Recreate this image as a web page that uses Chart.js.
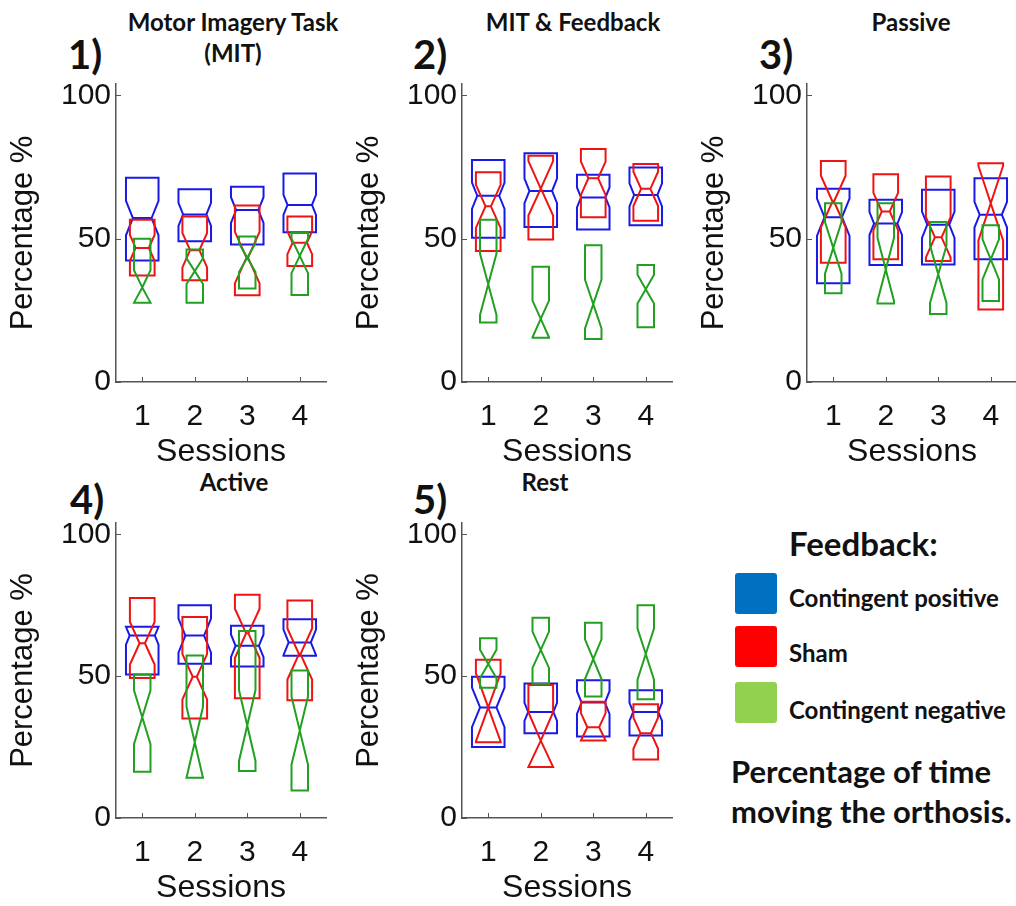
<!DOCTYPE html>
<html>
<head>
<meta charset="utf-8">
<script src="https://cdn.jsdelivr.net/npm/chart.js@4.4.1/dist/chart.umd.min.js"></script>
<style>
html, body { margin: 0; padding: 0; background: #fff; overflow: hidden; width: 1016px; height: 906px; }
.panel { position: absolute; }
.t { position: absolute; font-family: Lato, "Open Sans", sans-serif; font-weight: 700; color: #111; white-space: nowrap; line-height: 1; }
.c { transform: translateX(-50%); }
.sq { position: absolute; width: 42px; height: 41px; border-radius: 3px; }
</style>
</head>
<body>

<div class="t c" style="left:233px;top:10px;font-size:24px">Motor Imagery Task</div>
<div class="t c" style="left:233px;top:41px;font-size:24px">(MIT)</div>
<div class="t" style="left:68px;top:34px;font-size:40px">1)</div>
<div class="t c" style="left:573px;top:10px;font-size:24px">MIT &amp; Feedback</div>
<div class="t" style="left:413px;top:34px;font-size:40px">2)</div>
<div class="t c" style="left:911px;top:10px;font-size:24px">Passive</div>
<div class="t" style="left:759px;top:34px;font-size:40px">3)</div>
<div class="t c" style="left:234px;top:470px;font-size:24px">Active</div>
<div class="t" style="left:70px;top:479px;font-size:40px">4)</div>
<div class="t c" style="left:545px;top:470px;font-size:24px">Rest</div>
<div class="t" style="left:413px;top:479px;font-size:40px">5)</div>

<div class="t" style="left:789px;top:527px;font-size:33px">Feedback:</div>
<div class="sq" style="left:735px;top:573px;background:#0070c0"></div>
<div class="t" style="left:789px;top:586px;font-size:24px">Contingent positive</div>
<div class="sq" style="left:735px;top:626px;background:#ff0000"></div>
<div class="t" style="left:789px;top:641px;font-size:24px">Sham</div>
<div class="sq" style="left:735px;top:682px;background:#92d050"></div>
<div class="t" style="left:789px;top:698px;font-size:24px">Contingent negative</div>
<div class="t" style="left:731px;top:756px;font-size:31px">Percentage of time</div>
<div class="t" style="left:731px;top:796px;font-size:31px">moving the orthosis.</div>

<div class="panel" id="p1"><canvas id="c1"></canvas></div>
<div class="panel" id="p2"><canvas id="c2"></canvas></div>
<div class="panel" id="p3"><canvas id="c3"></canvas></div>
<div class="panel" id="p4"><canvas id="c4"></canvas></div>
<div class="panel" id="p5"><canvas id="c5"></canvas></div>

<script>
// sessions on the x axis
const SESSIONS = [1, 2, 3, 4];
const Y_TICKS = [0, 50, 100];

// each row: [q1, median, q3, notch half-length] per session

// 1) Motor Imagery Task (MIT)
const mitPositive = [[42.4, 57.2, 71.3, 6.0], [49.1, 58.5, 67.3, 4.0], [48.0, 60.0, 68.1, 4.5], [52.3, 61.8, 72.8, 3.5]];
const mitSham     = [[37.2, 46.8, 56.6, 4.5], [35.5, 46.0, 57.8, 6.0], [30.3, 43.4, 61.6, 9.0], [40.5, 48.6, 57.8, 4.0]];
const mitNegative = [[27.7, 33.0, 50.0, 6.0], [27.7, 38.7, 46.2, 4.5], [32.6, 43.4, 50.8, 5.0], [30.4, 44.0, 52.0, 6.0]];

// 2) MIT & Feedback
const fbPositive = [[50.3, 65.0, 77.5, 4.6], [54.1, 66.7, 79.8, 4.3], [53.2, 64.4, 72.3, 3.5], [54.7, 65.3, 74.9, 4.0]];
const fbSham     = [[45.7, 61.3, 73.2, 7.5], [49.7, 67.6, 79.0, 9.5], [57.5, 71.1, 81.3, 5.8], [56.3, 67.4, 76.1, 6.0]];
const fbNegative = [[20.8, 34.1, 56.6, 10.7], [15.4, 22.0, 40.2, 6.4], [15.0, 27.2, 47.7, 8.5], [19.1, 32.4, 40.8, 5.0]];

// 3) Passive
const pasPositive = [[34.5, 57.5, 67.4, 6.5], [40.8, 55.3, 63.6, 4.0], [41.0, 54.9, 67.1, 4.6], [42.8, 58.4, 71.1, 4.5]];
const pasSham     = [[41.6, 63.0, 77.1, 9.0], [42.8, 59.5, 72.5, 6.5], [42.2, 50.5, 71.7, 7.0], [25.3, 62.4, 76.3, 13.0]];
const pasNegative = [[31.0, 46.8, 62.4, 9.0], [27.4, 39.3, 62.4, 11.0], [23.7, 37.6, 55.8, 10.0], [28.3, 42.8, 54.7, 7.0]];

// 4) Active
const actPositive = [[50.6, 64.3, 67.4, 3.2], [54.4, 64.3, 75.0, 6.0], [53.4, 60.7, 67.8, 4.0], [57.2, 61.9, 70.1, 4.5]];
const actSham     = [[49.4, 61.6, 77.6, 7.5], [35.1, 49.8, 70.9, 8.0], [42.2, 65.1, 78.7, 8.7], [41.5, 57.8, 76.7, 9.0]];
const actNegative = [[16.3, 35.5, 50.6, 9.5], [14.2, 26.7, 57.3, 12.5], [16.6, 32.6, 65.9, 12.5], [9.7, 30.8, 52.0, 12.0]];

// 5) Rest
const restPositive = [[25.0, 39.0, 49.8, 7.0], [29.9, 37.4, 47.4, 3.2], [28.7, 40.7, 48.6, 4.0], [29.1, 37.4, 45.0, 3.2]];
const restSham     = [[26.7, 39.0, 55.8, 12.0], [18.0, 27.3, 46.9, 10.0], [27.3, 32.0, 41.0, 5.0], [20.6, 29.9, 40.1, 5.5]];
const restNegative = [[45.9, 54.3, 63.4, 5.0], [47.3, 59.3, 70.6, 6.4], [42.8, 56.0, 68.8, 7.0], [41.9, 57.8, 75.0, 9.0]];

// box styles: half width (x units), notch slope, drawing order
const STYLE_POS = { color: '#1a1ae6', half: 0.31, slope: 0.022, order: 3 };
const STYLE_SHAM = { color: '#ee1414', half: 0.235, slope: 0.0245, order: 2 };
const STYLE_NEG = { color: '#22a022', half: 0.157, slope: 0.05, order: 1 };

const FONT = 'Liberation Sans, Arial, sans-serif';

// notched box outline, median line included
function notchedBox(x, row, st) {
  const [q1, med, q3, n] = row;
  const w = st.half;
  const d = Math.min(st.slope * n, w);
  const hi = Math.min(med + n, q3);
  const lo = Math.max(med - n, q1);
  const l = x - w, r = x + w;
  return [
    {x: l + d, y: med}, {x: l, y: hi}, {x: l, y: q3}, {x: r, y: q3}, {x: r, y: hi},
    {x: r - d, y: med}, {x: l + d, y: med}, {x: l, y: lo}, {x: l, y: q1},
    {x: r, y: q1}, {x: r, y: lo}, {x: r - d, y: med}
  ];
}

function boxDatasets(rows, st, label) {
  return rows.map((row, i) => ({
    label: label + ' ' + SESSIONS[i],
    data: notchedBox(SESSIONS[i], row, st),
    showLine: true,
    fill: false,
    tension: 0,
    pointRadius: 0,
    borderColor: st.color,
    borderWidth: 2,
    order: st.order
  }));
}

// small inward ticks like the original axes
const innerTicks = {
  id: 'innerTicks',
  afterDraw(chart) {
    const {ctx, chartArea, scales} = chart;
    ctx.save();
    ctx.strokeStyle = '#555';
    ctx.lineWidth = 1;
    ctx.beginPath();
    Y_TICKS.forEach(v => {
      const y = Math.round(scales.y.getPixelForValue(v)) + 0.5;
      ctx.moveTo(chartArea.left, y);
      ctx.lineTo(chartArea.left + 5, y);
    });
    SESSIONS.forEach(v => {
      const x = Math.round(scales.x.getPixelForValue(v)) + 0.5;
      ctx.moveTo(x, chartArea.bottom);
      ctx.lineTo(x, chartArea.bottom - 5);
    });
    ctx.stroke();
    ctx.restore();
  }
};

const Y_AXIS_W = 116, X_AXIS_H = 90, PAD_TOP = 20, PAD_RIGHT = 10;

function makePanel(id, canvasId, area, pos, sham, neg) {
  const box = document.getElementById(id);
  const cv = document.getElementById(canvasId);
  const w = (area.right - area.left) + Y_AXIS_W + PAD_RIGHT;
  const h = (area.bottom - area.top) + PAD_TOP + X_AXIS_H;
  box.style.left = (area.left - Y_AXIS_W) + 'px';
  box.style.top = (area.top - PAD_TOP) + 'px';
  cv.width = w;
  cv.height = h;
  cv.style.width = w + 'px';
  cv.style.height = h + 'px';

  new Chart(cv.getContext('2d'), {
    type: 'scatter',
    data: {
      datasets: [
        ...boxDatasets(pos, STYLE_POS, 'Contingent positive'),
        ...boxDatasets(sham, STYLE_SHAM, 'Sham'),
        ...boxDatasets(neg, STYLE_NEG, 'Contingent negative')
      ]
    },
    options: {
      responsive: false,
      animation: false,
      layout: { padding: { top: PAD_TOP, right: PAD_RIGHT, left: 0, bottom: 0 } },
      plugins: { legend: { display: false }, tooltip: { enabled: false } },
      scales: {
        x: {
          type: 'linear',
          min: 0.5,
          max: 4.5,
          afterBuildTicks: s => { s.ticks = SESSIONS.map(v => ({ value: v })); },
          afterFit: s => { s.height = X_AXIS_H; },
          ticks: { font: { family: FONT, size: 30 }, color: '#111', padding: 17 },
          grid: { drawOnChartArea: false, drawTicks: false, color: 'rgba(0,0,0,0)' },
          border: { color: '#555', width: 1.5 },
          title: { display: true, text: 'Sessions', font: { family: FONT, size: 32 }, color: '#111', padding: { top: 0, bottom: 1 } }
        },
        y: {
          min: 0,
          max: 104,
          afterBuildTicks: s => { s.ticks = Y_TICKS.map(v => ({ value: v })); },
          afterFit: s => { s.width = Y_AXIS_W; },
          ticks: { font: { family: FONT, size: 30 }, color: '#111', padding: 5 },
          grid: { drawOnChartArea: false, drawTicks: false, color: 'rgba(0,0,0,0)' },
          border: { color: '#555', width: 1.5 },
          title: { display: true, text: 'Percentage %', font: { family: FONT, size: 31 }, color: '#111', padding: { top: 5, bottom: 0 } }
        }
      }
    },
    plugins: [innerTicks]
  });
}

makePanel('p1', 'c1', { left: 116, right: 326, top: 81, bottom: 382 }, mitPositive, mitSham, mitNegative);
makePanel('p2', 'c2', { left: 462, right: 672, top: 81, bottom: 382 }, fbPositive, fbSham, fbNegative);
makePanel('p3', 'c3', { left: 807, right: 1017, top: 81, bottom: 382 }, pasPositive, pasSham, pasNegative);
makePanel('p4', 'c4', { left: 116, right: 326, top: 520, bottom: 818 }, actPositive, actSham, actNegative);
makePanel('p5', 'c5', { left: 462, right: 672, top: 520, bottom: 818 }, restPositive, restSham, restNegative);
</script>
</body>
</html>
